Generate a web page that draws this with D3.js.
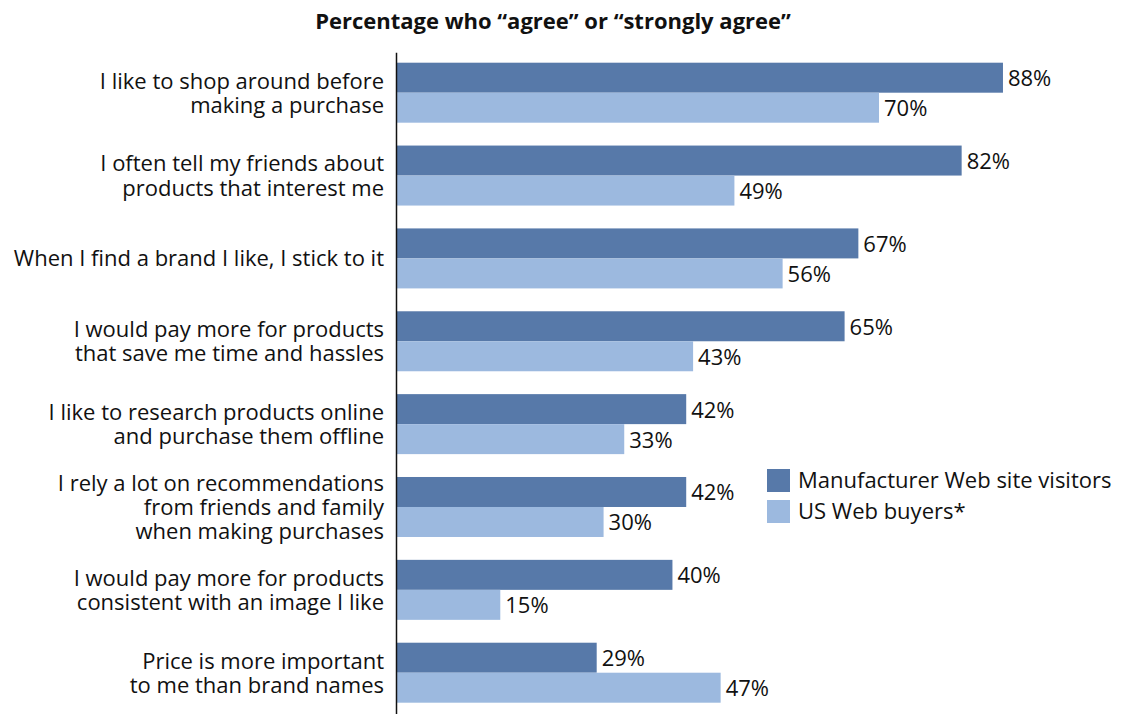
<!DOCTYPE html>
<html>
<head>
<meta charset="utf-8">
<script src="https://cdn.jsdelivr.net/npm/d3@7"></script>
<style>
	body { margin: 0; background: #fff; }
	text { font-family: "Open Sans", "Noto Sans", sans-serif; fill: #111; }
</style>
</head>
<body>
<div id="chart"></div>
<script>
var width = 1122,
	height = 714;

// 数据
var categories = [
	['I like to shop around before', 'making a purchase'],
	['I often tell my friends about', 'products that interest me'],
	['When I find a brand I like, I stick to it'],
	['I would pay more for products', 'that save me time and hassles'],
	['I like to research products online', 'and purchase them offline'],
	['I rely a lot on recommendations', 'from friends and family', 'when making purchases'],
	['I would pay more for products', 'consistent with an image I like'],
	['Price is more important', 'to me than brand names']
];
var series = ['Manufacturer Web site visitors', 'US Web buyers*'];
var visitors = [88, 82, 67, 65, 42, 42, 40, 29];
var buyers = [70, 49, 56, 43, 33, 30, 15, 47];
var title = 'Percentage who \u201cagree\u201d or \u201cstrongly agree\u201d';

var colors = ['#5779a9', '#9cb9df'];
var fontSize = 22;

var svg = d3.select('#chart').append('svg')
	.attr('width', width)
	.attr('height', height);

var idx = d3.range(categories.length);

var xScale = d3.scaleLinear()
	.domain([0, 100])
	.range([397, 1085.6]);

var yScale = d3.scaleBand()
	.domain(idx)
	.range([62.7, 702.7])
	.paddingInner(0.276)
	.paddingOuter(0);

var subScale = d3.scaleBand()
	.domain([0, 1])
	.range([0, yScale.bandwidth()]);

var color = d3.scaleOrdinal()
	.domain(series)
	.range(colors);

// 标题
svg.append('text')
	.attr('x', 553)
	.attr('y', 29)
	.attr('text-anchor', 'middle')
	.style('font-size', '22px')
	.style('font-weight', 'bold')
	.text(title);

var groups = svg.selectAll('.group')
	.data(idx)
	.enter()
	.append('g')
	.attr('class', 'group')
	.attr('transform', d => 'translate(0,' + yScale(d) + ')');

var bars = groups.selectAll('.bar')
	.data(d => [
		{ s: 0, v: visitors[d] },
		{ s: 1, v: buyers[d] }
	])
	.enter();

bars.append('rect')
	.attr('x', xScale(0))
	.attr('y', d => subScale(d.s))
	.attr('width', d => xScale(d.v) - xScale(0))
	.attr('height', subScale.bandwidth())
	.attr('fill', d => color(series[d.s]));

bars.append('text')
	.attr('x', d => xScale(d.v) + 5)
	.attr('y', d => subScale(d.s) + subScale.bandwidth() / 2 + 8.5)
	.style('font-size', fontSize + 'px')
	.text(d => d.v + '%');

// 类别标签
var lineH = 24.3;
groups.append('text')
	.attr('text-anchor', 'end')
	.style('font-size', fontSize + 'px')
	.each(function(d) {
		var lines = categories[d];
		var t = d3.select(this);
		var mid = yScale.bandwidth() / 2;
		var start = mid - (lines.length - 1) * lineH / 2 + 8;
		lines.forEach((l, i) => {
			t.append('tspan')
				.attr('x', 384)
				.attr('y', start + i * lineH)
				.text(l);
		});
	});

// 轴线
svg.append('line')
	.attr('x1', xScale(0) - 0.5)
	.attr('x2', xScale(0) - 0.5)
	.attr('y1', yScale.range()[0] - 10)
	.attr('y2', height)
	.attr('stroke', '#111')
	.attr('stroke-width', 1.5);

// 图例
var legend = svg.selectAll('.legend')
	.data(series)
	.enter()
	.append('g')
	.attr('class', 'legend')
	.attr('transform', (d, i) => 'translate(767,' + (469 + i * 31) + ')');

legend.append('rect')
	.attr('width', 23)
	.attr('height', 23)
	.attr('fill', d => color(d));

legend.append('text')
	.attr('x', 31)
	.attr('y', 19)
	.style('font-size', fontSize + 'px')
	.text(String);
</script>
</body>
</html>
